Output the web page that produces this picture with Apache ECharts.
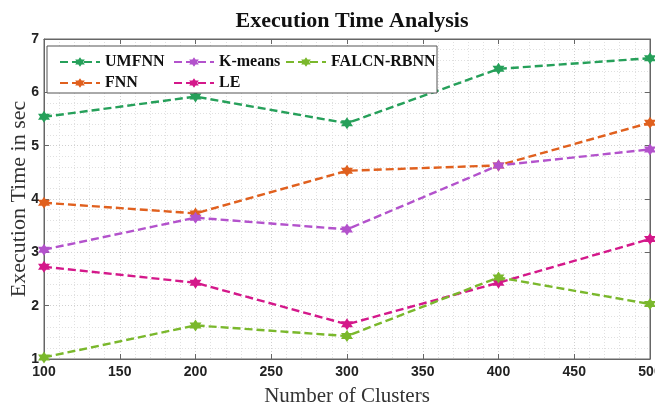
<!DOCTYPE html>
<html><head><meta charset="utf-8">
<script src="https://cdn.jsdelivr.net/npm/echarts@6/dist/echarts.min.js"></script>
<style>html,body{margin:0;padding:0;background:#fff}#c{width:655px;height:410px}</style>
</head><body><div id="c"></div>
<script>
const clusters = [100, 200, 300, 400, 500];
const umfnn = [5.54, 5.92, 5.42, 6.44, 6.64];
const fnn = [3.93, 3.73, 4.53, 4.63, 5.43];
const kmeans = [3.05, 3.65, 3.43, 4.63, 4.93];
const le = [2.73, 2.43, 1.65, 2.43, 3.25];
const falcn = [1.03, 1.63, 1.43, 2.53, 2.03];
const xTicks = [100, 150, 200, 250, 300, 350, 400, 450, 500];
const yTicks = [1, 2, 3, 4, 5, 6, 7];

const star = 'path://M0,-10 L2.9,-5 L8.66,-5 L5.77,0 L8.66,5 L2.9,5 L0,10 L-2.9,5 L-8.66,5 L-5.77,0 L-8.66,-5 L-2.9,-5 Z';
const colors = {UMFNN:'#26a05a', FNN:'#e0601e', 'K-means':'#b352cc', LE:'#d4188a', 'FALCN-RBNN':'#7ab82c'};
function mk(name, vals){
  return {name, type:'line', data: clusters.map((c,i)=>[c, vals[i]]),
    symbol: star, symbolSize: 12, showSymbol:true,
    lineStyle:{color:colors[name], width:2.4, type:[8,4]},
    itemStyle:{color:colors[name]}, z: 3};
}
const tickFont = {fontFamily:'Liberation Sans, Arial, sans-serif', fontWeight:'bold', fontSize:14, color:'#222'};
const axisLineStyle = {color:'#666', width:1};
const gridDot = {show:true, lineStyle:{color:'#d0d0d0', type:[1,2], width:1}};
const legendCommon = {orient:'vertical', itemGap:5, itemWidth:40, itemHeight:12,
  textStyle:{fontFamily:'Liberation Serif, Times New Roman, serif', fontWeight:'bold', fontSize:16, color:'#111'},
  z:10, top:49};
const chart = echarts.init(document.getElementById('c'));
chart.setOption({
  animation:false,
  title:{text:'Execution Time Analysis', left:347, top:5, textAlign:'center',
    textStyle:{fontFamily:'Liberation Serif, Times New Roman, serif', fontWeight:'bold', fontSize:22, color:'#111'}},
  grid:{left:44, right:5, top:39, bottom:51, show:true, borderColor:'#666', borderWidth:1, outerBoundsMode:'none', containLabel:false},
  legend:[
    Object.assign({}, legendCommon, {left:54, data:['UMFNN','FNN']}),
    Object.assign({}, legendCommon, {left:168, data:['K-means','LE']}),
    Object.assign({}, legendCommon, {left:280, data:['FALCN-RBNN']})
  ],
  graphic:[{type:'rect', shape:{x:47, y:46, width:390, height:47}, style:{fill:'#fff', stroke:'#555', lineWidth:1}, z:5}],
  xAxis:[{type:'value', min:100, max:500, interval:50,
    name:'Number of Clusters', nameLocation:'middle', nameGap:27, nameMoveOverlap:false,
    nameTextStyle:{fontFamily:'Liberation Serif, Times New Roman, serif', fontSize:21, color:'#333'},
    axisLine:{show:true, lineStyle:axisLineStyle},
    axisTick:{show:true, inside:true, length:5, lineStyle:axisLineStyle},
    axisLabel:Object.assign({margin:6, showMaxLabel:true, formatter:v=>xTicks.includes(v)?String(v):''}, tickFont),
    splitLine:gridDot, minorTick:{show:false, splitNumber:5}, minorSplitLine:{show:true, lineStyle:{color:'#e0e0e0', type:[1,2]}}},
   {type:'value', position:'top', min:100, max:500, interval:50,
    axisLine:{show:true, lineStyle:axisLineStyle}, axisTick:{show:true, inside:true, length:5, lineStyle:axisLineStyle},
    axisLabel:{show:false}, splitLine:{show:false}}],
  yAxis:[{type:'value', min:1, max:7, interval:1,
    name:'Execution Time in sec', nameLocation:'middle', nameGap:14, nameMoveOverlap:false,
    nameTextStyle:{fontFamily:'Liberation Serif, Times New Roman, serif', fontSize:22, color:'#333'},
    axisLine:{show:true, lineStyle:axisLineStyle},
    axisTick:{show:true, inside:true, length:5, lineStyle:axisLineStyle},
    axisLabel:Object.assign({margin:5, formatter:v=>yTicks.includes(v)?String(v):''}, tickFont),
    splitLine:gridDot, minorTick:{show:false, splitNumber:5}, minorSplitLine:{show:true, lineStyle:{color:'#e0e0e0', type:[1,2]}}},
   {type:'value', position:'right', min:1, max:7, interval:1,
    axisLine:{show:true, lineStyle:axisLineStyle}, axisTick:{show:true, inside:true, length:5, lineStyle:axisLineStyle},
    axisLabel:{show:false}, splitLine:{show:false}}],
  series:[mk('UMFNN', umfnn), mk('FNN', fnn), mk('K-means', kmeans), mk('LE', le), mk('FALCN-RBNN', falcn)]
});
</script></body></html>
